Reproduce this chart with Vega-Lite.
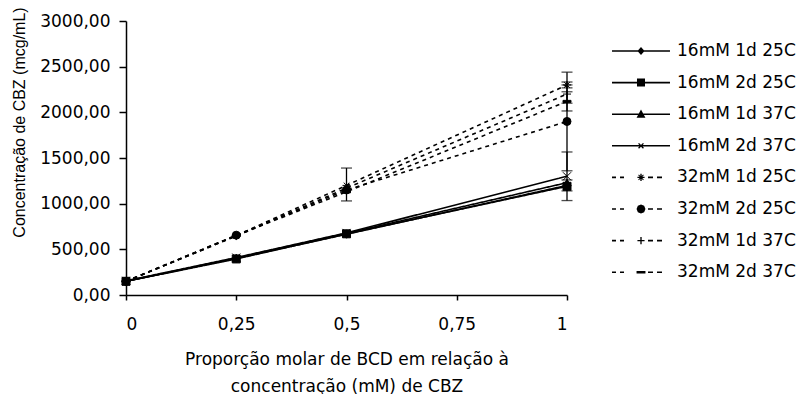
{
  "$schema": "https://vega.github.io/schema/vega-lite/v6.json",
  "width": 441,
  "height": 274,
  "autosize": {"type": "none"},
  "padding": {"left": 126, "top": 21, "right": 234, "bottom": 99},
  "background": "white",
  "config": {
    "view": {"stroke": null},
    "font": "DejaVu Sans",
    "axis": {"grid": false, "domainColor": "black", "tickColor": "black", "labelColor": "black", "titleColor": "black", "labelFont": "DejaVu Sans", "titleFont": "DejaVu Sans", "titleFontWeight": "normal", "labelFontSize": 17, "titleFontSize": 17, "domainWidth": 1.5, "tickWidth": 1.5}
  },
  "datasets": {
    "pts": [
      {"series": "16mM 1d 25C", "x": 0, "y": 150}, {"series": "16mM 1d 25C", "x": 0.25, "y": 400}, {"series": "16mM 1d 25C", "x": 0.5, "y": 665}, {"series": "16mM 1d 25C", "x": 1, "y": 1200},
      {"series": "16mM 2d 25C", "x": 0, "y": 150}, {"series": "16mM 2d 25C", "x": 0.25, "y": 395}, {"series": "16mM 2d 25C", "x": 0.5, "y": 670}, {"series": "16mM 2d 25C", "x": 1, "y": 1190},
      {"series": "16mM 1d 37C", "x": 0, "y": 150}, {"series": "16mM 1d 37C", "x": 0.25, "y": 405}, {"series": "16mM 1d 37C", "x": 0.5, "y": 675}, {"series": "16mM 1d 37C", "x": 1, "y": 1230},
      {"series": "16mM 2d 37C", "x": 0, "y": 155}, {"series": "16mM 2d 37C", "x": 0.25, "y": 410}, {"series": "16mM 2d 37C", "x": 0.5, "y": 680}, {"series": "16mM 2d 37C", "x": 1, "y": 1300},
      {"series": "32mM 1d 25C", "x": 0, "y": 150}, {"series": "32mM 1d 25C", "x": 0.25, "y": 650}, {"series": "32mM 1d 25C", "x": 0.5, "y": 1200}, {"series": "32mM 1d 25C", "x": 1, "y": 2300},
      {"series": "32mM 2d 25C", "x": 0, "y": 150}, {"series": "32mM 2d 25C", "x": 0.25, "y": 655}, {"series": "32mM 2d 25C", "x": 0.5, "y": 1150}, {"series": "32mM 2d 25C", "x": 1, "y": 1900},
      {"series": "32mM 1d 37C", "x": 0, "y": 150}, {"series": "32mM 1d 37C", "x": 0.25, "y": 645}, {"series": "32mM 1d 37C", "x": 0.5, "y": 1170}, {"series": "32mM 1d 37C", "x": 1, "y": 2200},
      {"series": "32mM 2d 37C", "x": 0, "y": 150}, {"series": "32mM 2d 37C", "x": 0.25, "y": 650}, {"series": "32mM 2d 37C", "x": 0.5, "y": 1130}, {"series": "32mM 2d 37C", "x": 1, "y": 2120}
    ],
    "err": [
      {"series": "32mM 1d 25C", "x": 0.5, "lo": 1030, "hi": 1390},
      {"series": "32mM 2d 25C", "x": 1, "lo": 1360, "hi": 2440},
      {"series": "32mM 1d 25C", "x": 1, "lo": 2268, "hi": 2332},
      {"series": "32mM 1d 37C", "x": 1, "lo": 2100, "hi": 2300},
      {"series": "32mM 2d 37C", "x": 1, "lo": 2015, "hi": 2225},
      {"series": "16mM 2d 37C", "x": 1, "lo": 1034, "hi": 1566},
      {"series": "16mM 1d 25C", "x": 1, "lo": 1140, "hi": 1260}
    ]
  },
  "resolve": {"scale": {"shape": "independent"}, "legend": {"shape": "independent"}},
  "layer": [
    {
      "data": {"name": "pts"},
      "mark": {"type": "line", "color": "black", "strokeWidth": 1.6},
      "encoding": {
        "x": {"field": "x", "type": "quantitative", "scale": {"domain": [0, 1], "nice": false}, "axis": {"values": [0, 0.25, 0.5, 0.75, 1], "labelExpr": "replace(toString(datum.value), '.', ',')", "tickSize": 5, "labelPadding": 16, "title": ["Proporção molar de BCD em relação à", "concentração (mM) de CBZ"], "titlePadding": 19, "titleLineHeight": 27}},
        "y": {"field": "y", "type": "quantitative", "scale": {"domain": [0, 3000], "nice": false}, "axis": {"values": [0, 500, 1000, 1500, 2000, 2500, 3000], "labelExpr": "replace(format(datum.value, '.2f'), '.', ',')", "tickSize": 7, "labelPadding": 9, "title": "Concentração de CBZ (mcg/mL)", "titleFont": "Liberation Sans", "titleFontSize": 16, "titleX": -99, "titleY": 101, "titleAngle": -90, "titleBaseline": "bottom", "titleAlign": "center"}},
        "detail": {"field": "series"},
        "strokeDash": {"field": "series", "type": "nominal", "legend": null, "sort": ["16mM 1d 25C", "16mM 2d 25C", "16mM 1d 37C", "16mM 2d 37C", "32mM 1d 25C", "32mM 2d 25C", "32mM 1d 37C", "32mM 2d 37C"], "scale": {"range": [[1, 0], [1, 0], [1, 0], [1, 0], [4, 4], [4, 4], [4, 4], [4, 4]]}}
      }
    },
    {
      "data": {"name": "err"},
      "mark": {"type": "rule", "color": "black", "strokeWidth": 1.3},
      "encoding": {
        "x": {"field": "x", "type": "quantitative"},
        "y": {"field": "lo", "type": "quantitative"},
        "y2": {"field": "hi"}
      }
    },
    {
      "data": {"name": "err"},
      "transform": [{"fold": ["lo", "hi"], "as": ["end", "v"]}],
      "mark": {"type": "tick", "color": "black", "orient": "horizontal", "size": 11, "thickness": 1.3},
      "encoding": {
        "x": {"field": "x", "type": "quantitative"},
        "y": {"field": "v", "type": "quantitative"}
      }
    },
    {
      "data": {"name": "pts"},
      "mark": {"type": "point", "filled": true, "color": "black", "stroke": "black", "strokeWidth": 1, "opacity": 1},
      "encoding": {
        "x": {"field": "x", "type": "quantitative"},
        "y": {"field": "y", "type": "quantitative"},
        "shape": {"field": "series", "type": "nominal", "legend": null, "sort": ["16mM 1d 25C", "16mM 2d 25C", "16mM 1d 37C", "16mM 2d 37C", "32mM 1d 25C", "32mM 2d 25C", "32mM 1d 37C", "32mM 2d 37C"],
          "scale": {"range": ["diamond", "square", "triangle-up", "M-1,-1L1,1M-1,1L1,-1", "M-1,0L1,0M0,-1L0,1M-0.7,-0.7L0.7,0.7M-0.7,0.7L0.7,-0.7", "circle", "M-1,0L1,0M0,-1L0,1", "M-1,-0.25L1,-0.25L1,0.25L-1,0.25Z"]}},
        "size": {"value": 64}
      }
    },
    {
      "data": {"name": "pts"},
      "transform": [{"filter": "datum.x > 5"}],
      "mark": {"type": "point", "filled": true, "color": "black", "opacity": 1},
      "encoding": {
        "x": {"field": "x", "type": "quantitative"},
        "y": {"field": "y", "type": "quantitative"},
        "shape": {"field": "series", "type": "nominal",
          "scale": {"domain": ["16mM 1d 25C", "16mM 2d 25C", "16mM 1d 37C", "16mM 2d 37C", "32mM 1d 25C", "32mM 2d 25C", "32mM 1d 37C", "32mM 2d 37C"], "range": [
            "M-1.303,-0.036L1.303,-0.036L1.303,0.036L-1.303,0.036ZM0,-0.18L0.16,0L0,0.18L-0.16,0Z",
            "M-1.303,-0.036L1.303,-0.036L1.303,0.036L-1.303,0.036ZM-0.18,-0.18L0.18,-0.18L0.18,0.18L-0.18,0.18Z",
            "M-1.303,-0.036L1.303,-0.036L1.303,0.036L-1.303,0.036ZM0,-0.21L0.2,0.16L-0.2,0.16Z",
            "M-1.303,-0.036L1.303,-0.036L1.303,0.036L-1.303,0.036ZM-0.089,-0.131L0.131,0.089L0.089,0.131L-0.131,-0.089ZM-0.089,0.131L-0.131,0.089L0.089,-0.131L0.131,-0.089Z",
            "M-1.303,-0.036L-1.124,-0.036L-1.124,0.036L-1.303,0.036ZM-0.944,-0.036L-0.764,-0.036L-0.764,0.036L-0.944,0.036ZM-0.16,-0.03L0.16,-0.03L0.16,0.03L-0.16,0.03ZM-0.03,-0.16L0.03,-0.16L0.03,0.16L-0.03,0.16ZM-0.095,-0.125L0.125,0.095L0.095,0.125L-0.125,-0.095ZM-0.095,0.125L-0.125,0.095L0.095,-0.125L0.125,-0.095ZM0.315,-0.036L0.539,-0.036L0.539,0.036L0.315,0.036ZM0.719,-0.036L0.944,-0.036L0.944,0.036L0.719,0.036Z",
            "M-1.303,-0.036L-1.124,-0.036L-1.124,0.036L-1.303,0.036ZM-0.944,-0.036L-0.764,-0.036L-0.764,0.036L-0.944,0.036ZM0.2,0L0.141,0.141L0,0.2L-0.141,0.141L-0.2,0L-0.141,-0.141L0,-0.2L0.141,-0.141ZM0.315,-0.036L0.539,-0.036L0.539,0.036L0.315,0.036ZM0.719,-0.036L0.944,-0.036L0.944,0.036L0.719,0.036Z",
            "M-1.303,-0.036L-1.124,-0.036L-1.124,0.036L-1.303,0.036ZM-0.944,-0.036L-0.764,-0.036L-0.764,0.036L-0.944,0.036ZM-0.16,-0.03L0.16,-0.03L0.16,0.03L-0.16,0.03ZM-0.03,-0.16L0.03,-0.16L0.03,0.16L-0.03,0.16ZM0.315,-0.036L0.539,-0.036L0.539,0.036L0.315,0.036ZM0.719,-0.036L0.944,-0.036L0.944,0.036L0.719,0.036Z",
            "M-1.303,-0.036L-1.124,-0.036L-1.124,0.036L-1.303,0.036ZM-0.944,-0.036L-0.764,-0.036L-0.764,0.036L-0.944,0.036ZM-0.2,-0.054L0.2,-0.054L0.2,0.054L-0.2,0.054ZM0.315,-0.036L0.539,-0.036L0.539,0.036L0.315,0.036ZM0.719,-0.036L0.944,-0.036L0.944,0.036L0.719,0.036Z"
          ]},
          "legend": {
            "title": null, "orient": "none", "legendX": 492, "legendY": 7, "padding": 0,
            "symbolSize": 1980, "labelFontSize": 17, "labelFont": "DejaVu Sans", "labelColor": "black", "labelOffset": 13, "rowPadding": 0.6,
            "symbolOpacity": 1, "symbolFillColor": "black", "symbolStrokeWidth": 1.5,
            "encode": {"symbols": {"fill": {"value": "black"}, "opacity": {"value": 1}}}
          }
        }
      }
    }
  ]
}
